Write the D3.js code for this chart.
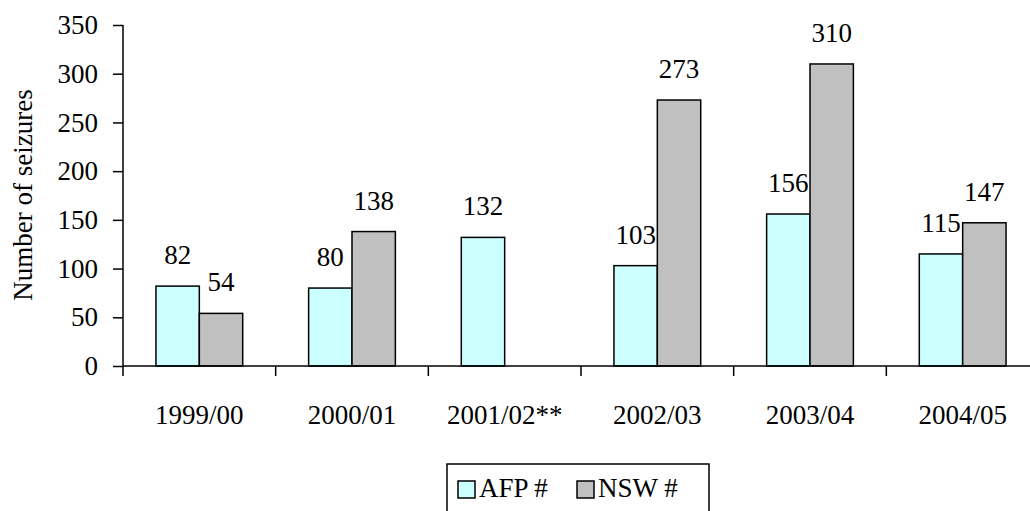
<!DOCTYPE html>
<html>
<head>
<meta charset="utf-8">
<script src="https://cdn.jsdelivr.net/npm/d3@7"></script>
</head>
<body style="margin:0">
<div id="chart"></div>
<script>
const years = ["1999/00", "2000/01", "2001/02**", "2002/03", "2003/04", "2004/05"];
const afp = [82, 80, 132, 103, 156, 115];
const nsw = [54, 138, null, 273, 310, 147];
const seriesNames = ["AFP #", "NSW #"];
const seriesColors = ["#ccffff", "#c0c0c0"];
const yTicks = [0, 50, 100, 150, 200, 250, 300, 350];

const width = 1030;
const height = 511;
const plotLeft = 123, plotRight = 1039, plotTop = 25, plotBottom = 366;
const fontFam = '"Liberation Serif", "Times New Roman", Tinos, serif';
const fontSize = "27px";

const svg = d3.select("#chart")
    .append("svg")
    .attr("width", width)
    .attr("height", height)
    .attr("font-family", fontFam)
    .style("display", "block");

// text styling helper
const label = sel => sel
    .attr("font-family", fontFam)
    .style("font-family", fontFam)
    .style("font-size", fontSize)
    .attr("fill", "#000");

// scales
const x0 = d3.scaleBand()
    .domain(years)
    .range([plotLeft, plotRight]);

const x1 = d3.scaleBand()
    .domain(seriesNames)
    .range([0, x0.bandwidth()])
    .paddingOuter(0.76);

const y = d3.scaleLinear()
    .domain([0, 350])
    .range([plotBottom, plotTop]);

const rows = years.map((yr, i) => ({ year: yr, values: [afp[i], nsw[i]] }));

// bars
const groups = svg.selectAll("g.grp")
    .data(rows)
    .join("g")
    .attr("class", "grp")
    .attr("transform", d => `translate(${x0(d.year)},0)`);

groups.selectAll("rect")
    .data(d => d.values.map((v, j) => ({ name: seriesNames[j], v, j })).filter(e => e.v != null))
    .join("rect")
    .attr("x", d => x1(d.name))
    .attr("y", d => y(d.v))
    .attr("width", x1.bandwidth())
    .attr("height", d => y(0) - y(d.v))
    .attr("fill", d => seriesColors[d.j])
    .attr("stroke", "#000")
    .attr("stroke-width", 1.5);

groups.selectAll("text")
    .data(d => d.values.map((v, j) => ({ name: seriesNames[j], v })).filter(e => e.v != null))
    .join("text")
    .attr("x", d => x1(d.name) + x1.bandwidth() / 2)
    .attr("y", d => y(d.v) - 22)
    .attr("text-anchor", "middle")
    .call(label)
    .text(d => d.v);

// y axis
const yAxis = svg.append("g")
    .attr("transform", `translate(${plotLeft},0)`)
    .call(d3.axisLeft(y).tickValues(yTicks).tickSize(10).tickPadding(15));
yAxis.attr("font-family", fontFam).attr("font-size", null);
yAxis.select(".domain").attr("stroke-width", 1.5).attr("d", `M0,${plotTop}V${plotBottom}`);
yAxis.selectAll(".tick line").attr("stroke-width", 1.5);
yAxis.selectAll(".tick text").call(label);

// x axis
svg.append("line")
    .attr("x1", plotLeft).attr("x2", plotRight)
    .attr("y1", y(0)).attr("y2", y(0))
    .attr("stroke", "#000").attr("stroke-width", 1.5);

const boundaries = years.map(d => x0(d)).concat([x0.range()[1]]);
svg.selectAll("line.xt")
    .data(boundaries)
    .join("line")
    .attr("class", "xt")
    .attr("x1", d => d).attr("x2", d => d)
    .attr("y1", y(0)).attr("y2", y(0) + 10)
    .attr("stroke", "#000").attr("stroke-width", 1.5);

svg.selectAll("text.xl")
    .data(years)
    .join("text")
    .attr("class", "xl")
    .attr("x", d => x0(d) + x0.bandwidth() / 2)
    .attr("y", y(0) + 58)
    .attr("text-anchor", "middle")
    .call(label)
    .text(d => d);

// y title
svg.append("text")
    .attr("transform", "translate(32,195) rotate(-90)")
    .attr("text-anchor", "middle")
    .call(label)
    .text("Number of seizures");

// legend
const legend = svg.append("g");
legend.append("rect")
    .attr("x", 447).attr("y", 464)
    .attr("width", 262).attr("height", 60)
    .attr("fill", "#fff").attr("stroke", "#000").attr("stroke-width", 1.5);

const legendX = [458, 577];
const items = legend.selectAll("g.li")
    .data(seriesNames)
    .join("g")
    .attr("class", "li")
    .attr("transform", (d, i) => `translate(${legendX[i]},481)`);
items.append("rect")
    .attr("width", 17).attr("height", 17)
    .attr("fill", (d, i) => seriesColors[i])
    .attr("stroke", "#000").attr("stroke-width", 1.5);
items.append("text")
    .attr("x", 21).attr("y", 16)
    .call(label)
    .text(d => d);
</script>
</body>
</html>
